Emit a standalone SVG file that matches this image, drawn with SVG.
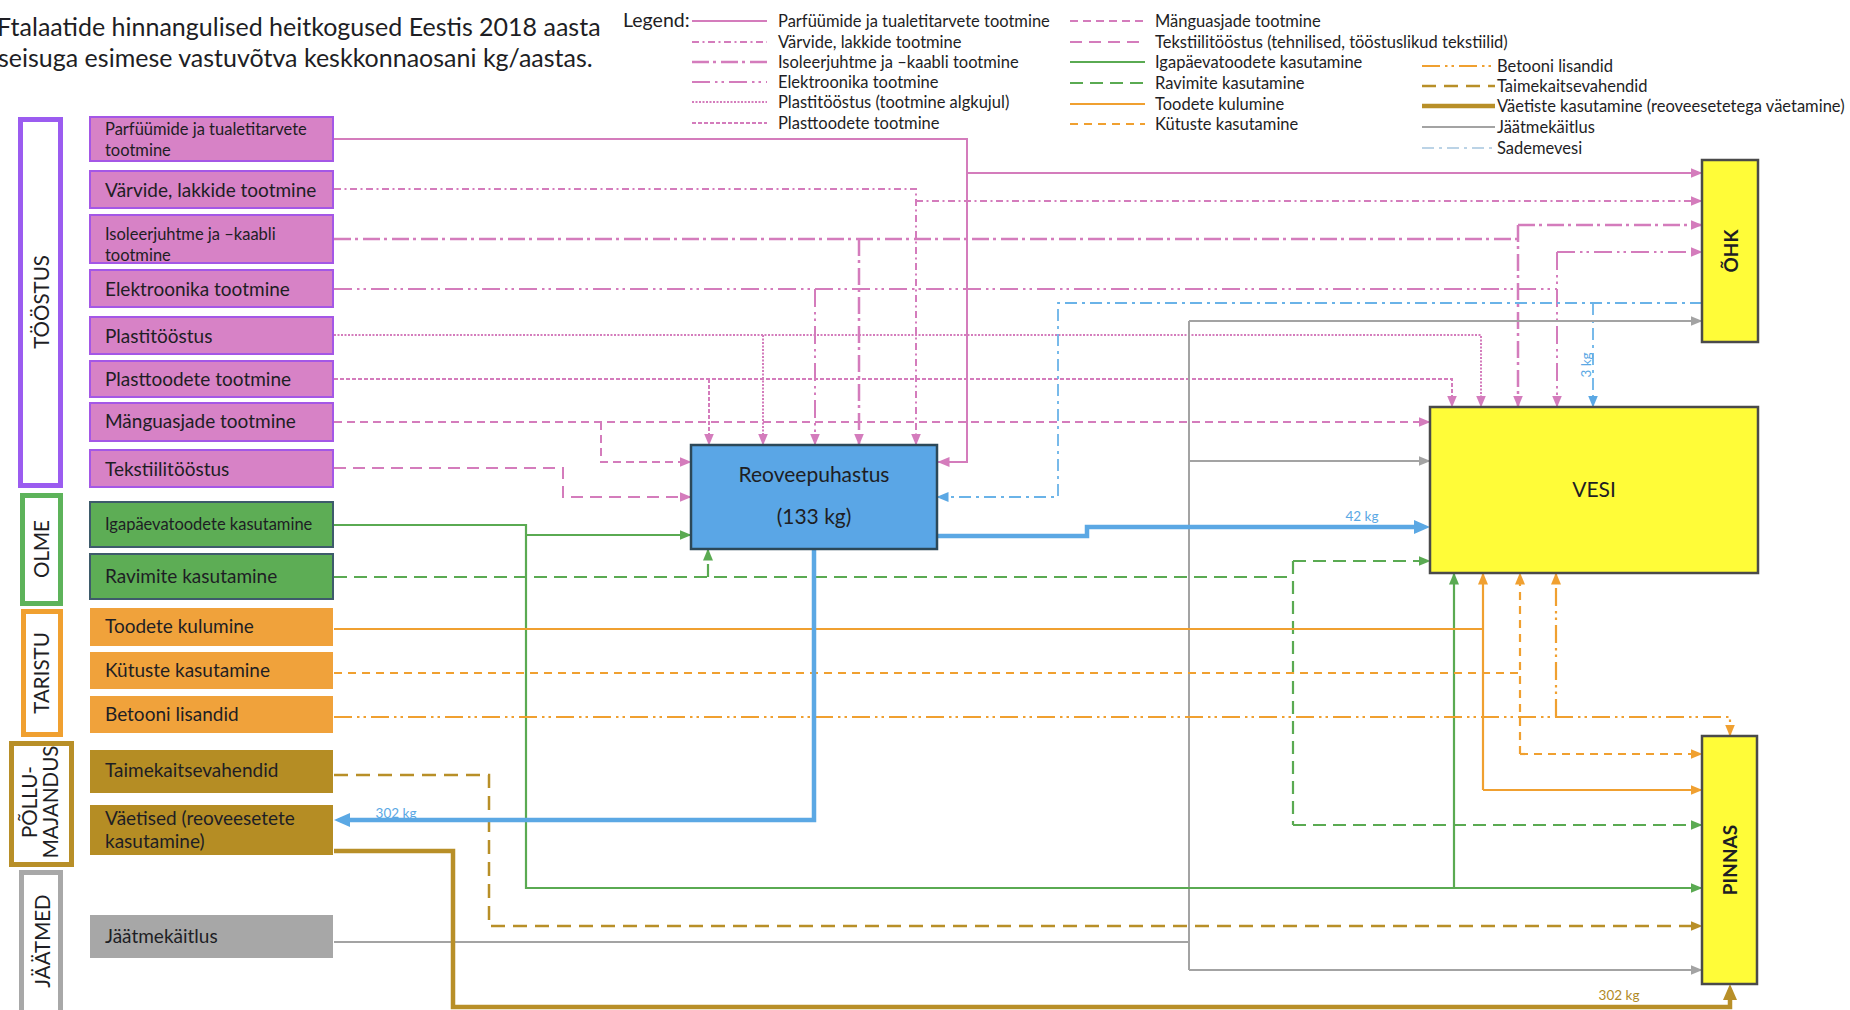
<svg xmlns="http://www.w3.org/2000/svg" width="1850" height="1010" viewBox="0 0 1850 1010">
<defs>
<style>
text{font-family:Lato,"Open Sans","Liberation Sans",sans-serif;fill:#1e1e24}
.title{font-size:25px}
.lgh{font-size:19.5px}
.lg{font-size:16.5px}
.bx{font-size:19px}
.bs{font-size:16.5px}
.cat{font-size:20.5px}
.env-t{font-size:19px;font-weight:bold}
.kg{font-size:13.5px}
.pinkbox{fill:#D782C6;stroke:#A457E6;stroke-width:2}
.greenbox{fill:#5DAD55;stroke:#3E5B6B;stroke-width:2}
.orangebox{fill:#F0A23B}
.brownbox{fill:#B58D24}
.graybox{fill:#A7A7A7}
.env{fill:#FFFC38;stroke:#4A4A4A;stroke-width:2.5}
.wwtp{fill:#5AA6E6;stroke:#2C4858;stroke-width:2.5}
.frame{fill:#fff;stroke-width:5}
.ln{fill:none}
.pk{stroke:#D47CBC;stroke-width:2}
.gr{stroke:#5AAA52;stroke-width:2.2}
.or{stroke:#F0A030;stroke-width:2.2}
.br{stroke:#B88F28;stroke-width:2.5}
.jt{stroke:#A3A3A3;stroke-width:2}
.sd{stroke:#6AB3E8;stroke-width:1.8;stroke-dasharray:12 5 3 5}
.bl{stroke:#5BA8E4;stroke-width:4.5}
.vt{stroke:#B88F28;stroke-width:4.5}
.d-vl{stroke-dasharray:7 3.5 2 3.5}
.d-is{stroke-dasharray:17 4 3 5;stroke-width:2.5}
.d-el{stroke-dasharray:18 5 2.5 4 2.5 5}
.d-dot{stroke-dasharray:2 1.5}
.d-fd{stroke-dasharray:4 2}
.d-mg{stroke-dasharray:8 5}
.d-tk{stroke-dasharray:12 7}
.d-rv{stroke-dasharray:13 7}
.d-kt{stroke-dasharray:8 6}
.d-tm{stroke-dasharray:14 8}
.hP{fill:#D47CBC}
.hG{fill:#5AAA52}
.hO{fill:#F0A030}
.hB{fill:#B88F28}
.hJ{fill:#A3A3A3}
.hS{fill:#5BA8E4}
</style>
<marker id="aP" markerUnits="userSpaceOnUse" markerWidth="12" markerHeight="12" viewBox="0 0 12 12" refX="11.5" refY="6" orient="auto"><path class="hP" d="M0,1L12,6L0,11z"/></marker>
<marker id="aG" markerUnits="userSpaceOnUse" markerWidth="12" markerHeight="12" viewBox="0 0 12 12" refX="11.5" refY="6" orient="auto"><path class="hG" d="M0,1L12,6L0,11z"/></marker>
<marker id="aO" markerUnits="userSpaceOnUse" markerWidth="12" markerHeight="12" viewBox="0 0 12 12" refX="11.5" refY="6" orient="auto"><path class="hO" d="M0,1L12,6L0,11z"/></marker>
<marker id="aB" markerUnits="userSpaceOnUse" markerWidth="12" markerHeight="12" viewBox="0 0 12 12" refX="11.5" refY="6" orient="auto"><path class="hB" d="M0,1L12,6L0,11z"/></marker>
<marker id="aJ" markerUnits="userSpaceOnUse" markerWidth="12" markerHeight="12" viewBox="0 0 12 12" refX="11.5" refY="6" orient="auto"><path class="hJ" d="M0,1L12,6L0,11z"/></marker>
<marker id="aS" markerUnits="userSpaceOnUse" markerWidth="12" markerHeight="12" viewBox="0 0 12 12" refX="11.5" refY="6" orient="auto"><path class="hS" d="M0,1L12,6L0,11z"/></marker>
<marker id="aW" markerUnits="userSpaceOnUse" markerWidth="16" markerHeight="14" viewBox="0 0 16 14" refX="10" refY="7" orient="auto"><path class="hS" d="M0,0L16,7L0,14z"/></marker>
<marker id="aV" markerUnits="userSpaceOnUse" markerWidth="16" markerHeight="14" viewBox="0 0 16 14" refX="10" refY="7" orient="auto"><path class="hB" d="M0,0L16,7L0,14z"/></marker>
</defs>

<rect width="1850" height="1010" fill="#fff"/>

<!-- heading -->
<g id="title">
<text class="title" x="-3" y="36">Ftalaatide hinnangulised heitkogused Eestis 2018 aasta</text>
<text class="title" x="-2" y="67">seisuga esimese vastuvõtva keskkonnaosani kg/aastas.</text>
</g>

<!-- legend -->
<g id="legend">
<text class="lgh" x="623" y="27">Legend:</text>
<line class="ln pk" x1="692" y1="21" x2="767" y2="21"/>
<line class="ln pk d-vl" x1="692" y1="42" x2="767" y2="42"/>
<line class="ln pk d-is" x1="692" y1="62" x2="767" y2="62"/>
<line class="ln pk d-el" x1="692" y1="82" x2="767" y2="82"/>
<line class="ln pk d-dot" x1="692" y1="102" x2="767" y2="102"/>
<line class="ln pk d-fd" x1="692" y1="123" x2="767" y2="123"/>
<text class="lg" x="778" y="27">Parfüümide ja tualetitarvete tootmine</text>
<text class="lg" x="778" y="48">Värvide, lakkide tootmine</text>
<text class="lg" x="778" y="68">Isoleerjuhtme ja –kaabli tootmine</text>
<text class="lg" x="778" y="88">Elektroonika tootmine</text>
<text class="lg" x="778" y="108">Plastitööstus (tootmine algkujul)</text>
<text class="lg" x="778" y="129">Plasttoodete tootmine</text>

<line class="ln pk d-mg" x1="1070" y1="21" x2="1145" y2="21"/>
<line class="ln pk d-tk" x1="1070" y1="42" x2="1145" y2="42"/>
<line class="ln gr" x1="1070" y1="62" x2="1145" y2="62"/>
<line class="ln gr d-rv" x1="1070" y1="83" x2="1145" y2="83"/>
<line class="ln or" x1="1070" y1="104" x2="1145" y2="104"/>
<line class="ln or d-kt" x1="1070" y1="124" x2="1145" y2="124"/>
<text class="lg" x="1155" y="27">Mänguasjade tootmine</text>
<text class="lg" x="1155" y="48">Tekstiilitööstus (tehnilised, tööstuslikud tekstiilid)</text>
<text class="lg" x="1155" y="68">Igapäevatoodete kasutamine</text>
<text class="lg" x="1155" y="89">Ravimite kasutamine</text>
<text class="lg" x="1155" y="110">Toodete kulumine</text>
<text class="lg" x="1155" y="130">Kütuste kasutamine</text>

<line class="ln or d-el" x1="1422" y1="66" x2="1495" y2="66"/>
<line class="ln br d-tm" x1="1422" y1="86" x2="1495" y2="86"/>
<line class="ln vt" x1="1422" y1="106" x2="1495" y2="106"/>
<line class="ln jt" x1="1422" y1="127" x2="1495" y2="127"/>
<line class="ln sd" x1="1422" y1="148" x2="1495" y2="148" style="stroke:#BBD3E6"/>
<text class="lg" x="1497" y="72">Betooni lisandid</text>
<text class="lg" x="1497" y="92">Taimekaitsevahendid</text>
<text class="lg" x="1497" y="112">Väetiste kasutamine (reoveesetetega väetamine)</text>
<text class="lg" x="1497" y="133">Jäätmekäitlus</text>
<text class="lg" x="1497" y="154">Sademevesi</text>
</g>

<!-- sector frames -->
<g id="sector-toostus">
<rect class="frame" x="20.5" y="119.5" width="40" height="366" stroke="#9B5CF0"/>
<text class="cat" transform="translate(49,302) rotate(-90)" text-anchor="middle">TÖÖSTUS</text>
</g>
<g id="sector-olme">
<rect class="frame" x="22.5" y="495.5" width="38" height="108" stroke="#5DB35A"/>
<text class="cat" transform="translate(49,549) rotate(-90)" text-anchor="middle">OLME</text>
</g>
<g id="sector-taristu">
<rect class="frame" x="23.5" y="611.5" width="37" height="123" stroke="#F0A030"/>
<text class="cat" transform="translate(49,673) rotate(-90)" text-anchor="middle">TARISTU</text>
</g>
<g id="sector-pollumajandus">
<rect class="frame" x="11.5" y="743.5" width="60" height="121" stroke="#B88F28"/>
<text class="cat" transform="translate(37,802) rotate(-90)" text-anchor="middle">PÕLLU-</text>
<text class="cat" transform="translate(58,802) rotate(-90)" text-anchor="middle">MAJANDUS</text>
</g>
<g id="sector-jaatmed">
<rect class="frame" x="21.5" y="872.5" width="39" height="150" stroke="#A8A8A8"/>
<text class="cat" transform="translate(50,941) rotate(-90)" text-anchor="middle">JÄÄTMED</text>
</g>

<!-- connectors -->
<g id="connectors" class="ln">
<!-- Parfüümide ja tualetitarvete tootmine -->
<path class="ln pk" d="M334,139H967V462H938" marker-end="url(#aP)"/>
<path class="ln pk" d="M967,173H1702" marker-end="url(#aP)"/>
<!-- Värvide, lakkide tootmine -->
<path class="ln pk d-vl" d="M334,189H916V445" marker-end="url(#aP)"/>
<path class="ln pk d-vl" d="M916,201H1702" marker-end="url(#aP)"/>
<!-- Isoleerjuhtme ja kaabli tootmine -->
<path class="ln pk d-is" d="M334,239H1518"/>
<path class="ln pk d-is" d="M859,239V445" marker-end="url(#aP)"/>
<path class="ln pk d-is" d="M1518,225V407" marker-end="url(#aP)"/>
<path class="ln pk d-is" d="M1518,225H1702" marker-end="url(#aP)"/>
<!-- Elektroonika tootmine -->
<path class="ln pk d-el" d="M334,289H1557"/>
<path class="ln pk d-el" d="M815,289V445" marker-end="url(#aP)"/>
<path class="ln pk d-el" d="M1557,252V407" marker-end="url(#aP)"/>
<path class="ln pk d-el" d="M1557,252H1702" marker-end="url(#aP)"/>
<!-- Plastitööstus -->
<path class="ln pk d-dot" d="M334,335H1481V407" marker-end="url(#aP)"/>
<path class="ln pk d-dot" d="M763,335V445" marker-end="url(#aP)"/>
<!-- Plasttoodete tootmine -->
<path class="ln pk d-fd" d="M334,379H1452V407" marker-end="url(#aP)"/>
<path class="ln pk d-fd" d="M709,379V445" marker-end="url(#aP)"/>
<!-- Mänguasjade tootmine -->
<path class="ln pk d-mg" d="M334,422H1430" marker-end="url(#aP)"/>
<path class="ln pk d-mg" d="M601,422V462H691" marker-end="url(#aP)"/>
<!-- Tekstiilitööstus -->
<path class="ln pk d-tk" d="M334,468H563V497H691" marker-end="url(#aP)"/>

<!-- Sademevesi -->
<path class="ln sd" d="M1702,303H1058V497H937" marker-end="url(#aS)"/>
<path class="ln sd" d="M1593,303V407" marker-end="url(#aS)"/>

<!-- Jäätmekäitlus -->
<path class="ln jt" d="M334,942H1189"/>
<path class="ln jt" d="M1189,321V970"/>
<path class="ln jt" d="M1189,321H1702" marker-end="url(#aJ)"/>
<path class="ln jt" d="M1189,461H1430" marker-end="url(#aJ)"/>
<path class="ln jt" d="M1189,970H1702" marker-end="url(#aJ)"/>

<!-- Igapäevatoodete kasutamine -->
<path class="ln gr" d="M334,525H526V888H1702" marker-end="url(#aG)"/>
<path class="ln gr" d="M526,535H691" marker-end="url(#aG)"/>
<path class="ln gr" d="M1454,888V573" marker-end="url(#aG)"/>
<!-- Ravimite kasutamine -->
<path class="ln gr d-rv" d="M334,577H1293"/>
<path class="ln gr d-rv" d="M1293,561V825"/>
<path class="ln gr d-rv" d="M1293,561H1430" marker-end="url(#aG)"/>
<path class="ln gr d-rv" d="M1293,825H1702" marker-end="url(#aG)"/>
<path class="ln gr d-rv" d="M708,577V549" marker-end="url(#aG)"/>

<!-- Toodete kulumine -->
<path class="ln or" d="M334,629H1483"/>
<path class="ln or" d="M1483,790V573" marker-end="url(#aO)"/>
<path class="ln or" d="M1483,790H1702" marker-end="url(#aO)"/>
<!-- Kütuste kasutamine -->
<path class="ln or d-kt" d="M334,673H1520"/>
<path class="ln or d-kt" d="M1520,754V573" marker-end="url(#aO)"/>
<path class="ln or d-kt" d="M1520,754H1702" marker-end="url(#aO)"/>
<!-- Betooni lisandid -->
<path class="ln or d-el" d="M334,717H1730V736" marker-end="url(#aO)"/>
<path class="ln or d-el" d="M1556,717V573" marker-end="url(#aO)"/>

<!-- Taimekaitsevahendid -->
<path class="ln br d-tm" d="M334,775H489V926H1702" marker-end="url(#aB)"/>
<!-- Väetised -->
<path class="ln vt" d="M334,851H453V1007H1730V990" marker-end="url(#aV)"/>

<!-- Reoveepuhastus outflows -->
<path class="ln bl" d="M937,536H1087V527H1424" marker-end="url(#aW)"/>
<path class="ln bl" d="M814,549V820H340" marker-end="url(#aW)"/>

<text class="kg" x="1362" y="521" text-anchor="middle" style="fill:#5BA8E4">42 kg</text>
<text class="kg" x="396" y="818" text-anchor="middle" style="fill:#5BA8E4">302 kg</text>
<text class="kg" transform="translate(1591,365) rotate(-90)" text-anchor="middle" style="fill:#5BA8E4">3 kg</text>
<text class="kg" x="1619" y="1000" text-anchor="middle" style="fill:#B08A26">302 kg</text>
</g>

<!-- source nodes -->
<g id="n-parfyymid"><rect class="pinkbox" x="90" y="117" width="243" height="44"/><text class="bs" x="105" y="135">Parfüümide ja tualetitarvete</text><text class="bs" x="105" y="156">tootmine</text></g>
<g id="n-varvid"><rect class="pinkbox" x="90" y="171" width="243" height="37"/><text class="bx" x="105" y="197">Värvide, lakkide tootmine</text></g>
<g id="n-isoleer"><rect class="pinkbox" x="90" y="215" width="243" height="48"/><text class="bs" x="105" y="240">Isoleerjuhtme ja –kaabli</text><text class="bs" x="105" y="261">tootmine</text></g>
<g id="n-elektroonika"><rect class="pinkbox" x="90" y="270" width="243" height="37"/><text class="bx" x="105" y="296">Elektroonika tootmine</text></g>
<g id="n-plastitoostus"><rect class="pinkbox" x="90" y="317" width="243" height="37"/><text class="bx" x="105" y="343">Plastitööstus</text></g>
<g id="n-plasttooted"><rect class="pinkbox" x="90" y="361" width="243" height="36"/><text class="bx" x="105" y="386">Plasttoodete tootmine</text></g>
<g id="n-manguasjad"><rect class="pinkbox" x="90" y="403" width="243" height="38"/><text class="bx" x="105" y="428">Mänguasjade tootmine</text></g>
<g id="n-tekstiil"><rect class="pinkbox" x="90" y="450" width="243" height="37"/><text class="bx" x="105" y="476">Tekstiilitööstus</text></g>

<g id="n-igapaev"><rect class="greenbox" x="90" y="502" width="243" height="45"/><text class="bs" x="105" y="530">Igapäevatoodete kasutamine</text></g>
<g id="n-ravimid"><rect class="greenbox" x="90" y="554" width="243" height="45"/><text class="bx" x="105" y="583">Ravimite kasutamine</text></g>

<g id="n-toodete-kulumine"><rect class="orangebox" x="90" y="608" width="243" height="38"/><text class="bx" x="105" y="633">Toodete kulumine</text></g>
<g id="n-kytused"><rect class="orangebox" x="90" y="652" width="243" height="37"/><text class="bx" x="105" y="677">Kütuste kasutamine</text></g>
<g id="n-betoon"><rect class="orangebox" x="90" y="696" width="243" height="37"/><text class="bx" x="105" y="721">Betooni lisandid</text></g>

<g id="n-taimekaitse"><rect class="brownbox" x="90" y="750" width="243" height="43"/><text class="bx" x="105" y="777">Taimekaitsevahendid</text></g>
<g id="n-vaetised"><rect class="brownbox" x="90" y="805" width="243" height="50"/><text class="bx" x="105" y="825">Väetised (reoveesetete</text><text class="bx" x="105" y="848">kasutamine)</text></g>

<g id="n-jaatmekaitlus"><rect class="graybox" x="90" y="915" width="243" height="43"/><text class="bx" x="105" y="943">Jäätmekäitlus</text></g>

<!-- treatment plant -->
<g id="n-reoveepuhastus">
<rect class="wwtp" x="691" y="445" width="246" height="104"/>
<text class="bx" x="814" y="482" text-anchor="middle" style="font-size:21px">Reoveepuhastus</text>
<text class="bx" x="814" y="524" text-anchor="middle" style="font-size:21px">(133 kg)</text>
</g>

<!-- receiving compartments -->
<g id="n-ohk">
<rect class="env" x="1702" y="160" width="56" height="182"/>
<text class="env-t" transform="translate(1738,251) rotate(-90)" text-anchor="middle">ÕHK</text>
</g>
<g id="n-vesi">
<rect class="env" x="1430" y="407" width="328" height="166"/>
<text class="bx" x="1594" y="497" text-anchor="middle" style="font-size:21px">VESI</text>
</g>
<g id="n-pinnas">
<rect class="env" x="1702" y="736" width="55" height="248"/>
<text class="env-t" transform="translate(1737,860) rotate(-90)" text-anchor="middle">PINNAS</text>
</g>
</svg>
